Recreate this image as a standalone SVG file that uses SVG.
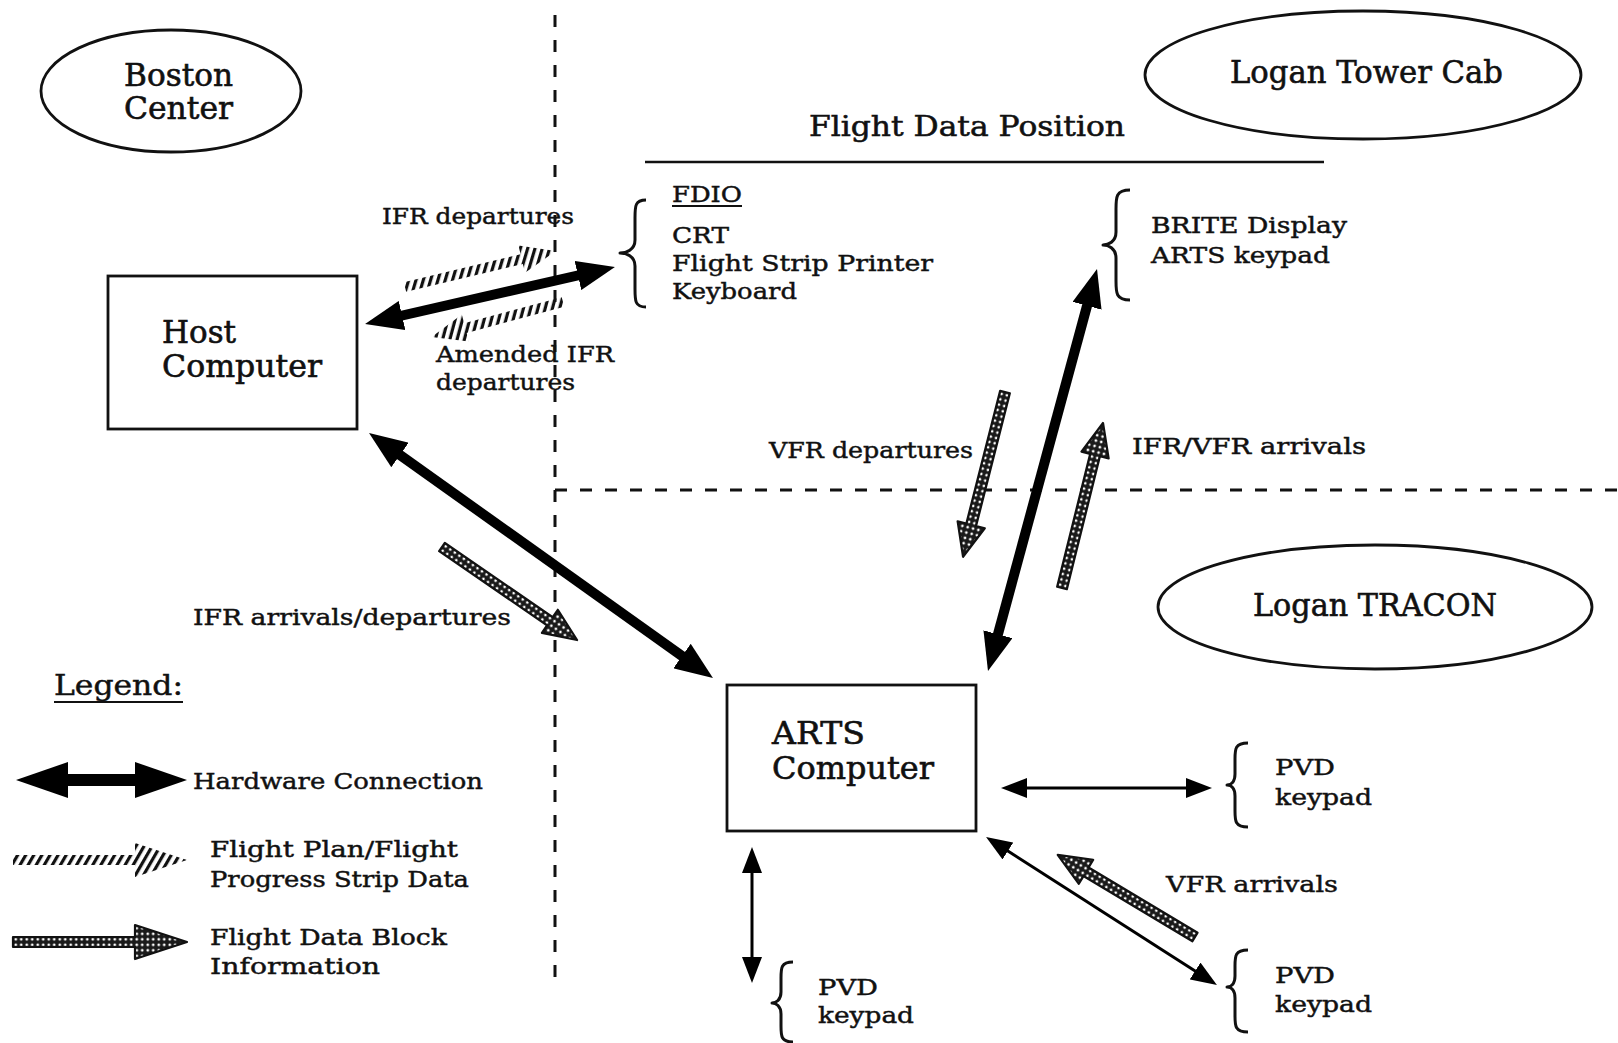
<svg xmlns="http://www.w3.org/2000/svg" width="1618" height="1043" viewBox="0 0 1618 1043">
<style>
text{font-family:"DejaVu Serif","Liberation Serif",serif;fill:#111;stroke:#111;stroke-width:0.45;}
.lg{font-size:31px;stroke-width:0.6;}
.md{font-size:28px;stroke-width:0.55;}
.sm{font-size:23px;}
.shape{fill:none;stroke:#111;stroke-width:2.8;}
.brace{fill:none;stroke:#111;stroke-width:3;stroke-linejoin:round;}
.dash{stroke:#111;stroke-width:3;stroke-dasharray:12 13;fill:none;}
.hw{stroke:#000;stroke-width:10;fill:none;}
.hwL{stroke:#000;stroke-width:12;fill:none;}
.thin{stroke:#000;stroke-width:3;fill:none;}
.hatch{fill:url(#hatchP);}
.stip{fill:url(#stipP);stroke:#111;stroke-width:2.2;stroke-linejoin:round;}
</style>
<defs>
<pattern id="hatchP" patternUnits="userSpaceOnUse" width="7" height="7" patternTransform="rotate(30)"><rect x="0" y="0" width="3.2" height="7" fill="#111"/></pattern>
<pattern id="stipP" patternUnits="userSpaceOnUse" width="5.5" height="5.5"><rect width="5.5" height="5.5" fill="#1a1a1a"/><circle cx="2.75" cy="2.75" r="1.4" fill="#fff"/></pattern>
<marker id="mHw" viewBox="0 0 38 30" refX="20" refY="15" markerWidth="38" markerHeight="30" markerUnits="userSpaceOnUse" orient="auto-start-reverse"><path d="M0,0 L38,15 L0,30 Z" fill="#000"/></marker>
<marker id="mHwL" viewBox="0 0 52 36" refX="26" refY="18" markerWidth="52" markerHeight="36" markerUnits="userSpaceOnUse" orient="auto-start-reverse"><path d="M0,0 L52,18 L0,36 Z" fill="#000"/></marker>
<marker id="mTh" viewBox="0 0 26 20" refX="20" refY="10" markerWidth="26" markerHeight="20" markerUnits="userSpaceOnUse" orient="auto-start-reverse"><path d="M0,0 L26,10 L0,20 Z" fill="#000"/></marker>
</defs>
<rect width="1618" height="1043" fill="#fff"/>

<g id="boundaries">
<line class="dash" x1="555" y1="15" x2="555" y2="986"/>
<line class="dash" x1="555" y1="490" x2="1618" y2="490"/>
</g>

<g id="boston-center">
<ellipse class="shape" cx="171" cy="91" rx="130" ry="61"/>
<text class="lg" x="124" y="86" textLength="109" lengthAdjust="spacingAndGlyphs">Boston</text>
<text class="lg" x="124" y="119" textLength="109" lengthAdjust="spacingAndGlyphs">Center</text>
</g>

<g id="logan-tower-cab">
<ellipse class="shape" cx="1363" cy="75" rx="218" ry="64"/>
<text class="lg" x="1230" y="83" textLength="273" lengthAdjust="spacingAndGlyphs">Logan Tower Cab</text>
</g>

<g id="logan-tracon">
<ellipse class="shape" cx="1375" cy="607" rx="217" ry="62"/>
<text class="lg" x="1253" y="616" textLength="244" lengthAdjust="spacingAndGlyphs">Logan TRACON</text>
</g>

<g id="flight-data-position">
<text class="md" x="809" y="136" textLength="316" lengthAdjust="spacingAndGlyphs">Flight Data Position</text>
<line x1="645" y1="162" x2="1324" y2="162" stroke="#111" stroke-width="2.6"/>
</g>

<g id="host-computer">
<rect class="shape" x="108" y="276" width="249" height="153"/>
<text class="lg" x="162" y="343" textLength="74" lengthAdjust="spacingAndGlyphs">Host</text>
<text class="lg" x="162" y="377" textLength="160" lengthAdjust="spacingAndGlyphs">Computer</text>
</g>

<g id="arts-computer">
<rect class="shape" x="727" y="685" width="249" height="146"/>
<text class="lg" x="772" y="744" textLength="93" lengthAdjust="spacingAndGlyphs">ARTS</text>
<text class="lg" x="772" y="779" textLength="162" lengthAdjust="spacingAndGlyphs">Computer</text>
</g>

<g id="fdio">
<path class="brace" d="M646,200 C635,200 635,206 635,218 L635,240 C635,250 626,253 620,253 C626,253 635,256 635,266 L635,289 C635,301 635,307 646,307"/>
<text class="sm" x="672" y="202" textLength="70" lengthAdjust="spacingAndGlyphs">FDIO</text>
<line x1="672" y1="206" x2="742" y2="206" stroke="#111" stroke-width="1.8"/>
<text class="sm" x="672" y="243" textLength="57" lengthAdjust="spacingAndGlyphs">CRT</text>
<text class="sm" x="672" y="271" textLength="261" lengthAdjust="spacingAndGlyphs">Flight Strip Printer</text>
<text class="sm" x="672" y="299" textLength="125" lengthAdjust="spacingAndGlyphs">Keyboard</text>
</g>

<g id="brite-display">
<path class="brace" d="M1130,190 C1116,190 1116,197 1116,209 L1116,232 C1116,242 1108,245 1103,245 C1108,245 1116,248 1116,258 L1116,281 C1116,293 1116,300 1130,300"/>
<text class="sm" x="1151" y="233" textLength="196" lengthAdjust="spacingAndGlyphs">BRITE Display</text>
<text class="sm" x="1151" y="263" textLength="179" lengthAdjust="spacingAndGlyphs">ARTS keypad</text>
</g>

<g id="pvd-right">
<path class="brace" d="M1248,743 C1235,743 1235,749 1235,759 L1235,774 C1235,782 1231,785 1227,785 C1231,785 1235,788 1235,796 L1235,811 C1235,821 1235,827 1248,827"/>
<text class="sm" x="1275" y="775" textLength="60" lengthAdjust="spacingAndGlyphs">PVD</text>
<text class="sm" x="1275" y="805" textLength="97" lengthAdjust="spacingAndGlyphs">keypad</text>
</g>

<g id="pvd-lower-right">
<path class="brace" d="M1248,950 C1235,950 1235,956 1235,966 L1235,976 C1235,984 1231,987 1227,987 C1231,987 1235,990 1235,998 L1235,1016 C1235,1026 1235,1032 1248,1032"/>
<text class="sm" x="1275" y="983" textLength="60" lengthAdjust="spacingAndGlyphs">PVD</text>
<text class="sm" x="1275" y="1012" textLength="97" lengthAdjust="spacingAndGlyphs">keypad</text>
</g>

<g id="pvd-bottom">
<path class="brace" d="M793,962 C781,962 781,968 781,978 L781,992 C781,1000 776,1003 772,1003 C776,1003 781,1006 781,1014 L781,1026 C781,1036 781,1042 793,1042"/>
<text class="sm" x="818" y="995" textLength="60" lengthAdjust="spacingAndGlyphs">PVD</text>
<text class="sm" x="818" y="1023" textLength="96" lengthAdjust="spacingAndGlyphs">keypad</text>
</g>

<g id="connectors">
<line class="hw" x1="382.6" y1="320" x2="597.4" y2="271" marker-start="url(#mHw)" marker-end="url(#mHw)"/>
<line class="hw" x1="383.7" y1="443.4" x2="698.3" y2="667.6" marker-start="url(#mHw)" marker-end="url(#mHw)"/>
<line class="hw" x1="1092.3" y1="286.4" x2="992.7" y2="653.6" marker-start="url(#mHw)" marker-end="url(#mHw)"/>
<line class="thin" x1="1007" y1="788" x2="1206" y2="788" marker-start="url(#mTh)" marker-end="url(#mTh)"/>
<line class="thin" x1="991.1" y1="840.2" x2="1211.9" y2="981.8" marker-start="url(#mTh)" marker-end="url(#mTh)"/>
<line class="thin" x1="752" y1="853" x2="752" y2="977" marker-start="url(#mTh)" marker-end="url(#mTh)"/>
<path class="hatch" transform="translate(405,287) rotate(-13.41)" d="M0,-5 L120,-5 L120,-14 L155,0 L120,14 L120,5 L0,5 Z"/>
<path class="hatch" transform="translate(563,302) rotate(165.04)" d="M0,-5 L101,-5 L101,-14 L136,0 L101,14 L101,5 L0,5 Z"/>
<path class="stip" transform="translate(442,547) rotate(34.56)" d="M0,-5 L131,-5 L131,-14 L164,0 L131,14 L131,5 L0,5 Z"/>
<path class="stip" transform="translate(1005,392) rotate(104.28)" d="M0,-5 L137,-5 L137,-14 L170,0 L137,14 L137,5 L0,5 Z"/>
<path class="stip" transform="translate(1062,588) rotate(-76.04)" d="M0,-5 L137,-5 L137,-14 L170,0 L137,14 L137,5 L0,5 Z"/>
<path class="stip" transform="translate(1195,937) rotate(-149.1)" d="M0,-5 L127,-5 L127,-14 L160,0 L127,14 L127,5 L0,5 Z"/>
</g>

<g id="connector-labels">
<text class="sm" x="382" y="224" textLength="192" lengthAdjust="spacingAndGlyphs">IFR departures</text>
<text class="sm" x="436" y="362" textLength="178" lengthAdjust="spacingAndGlyphs">Amended IFR</text>
<text class="sm" x="436" y="390" textLength="139" lengthAdjust="spacingAndGlyphs">departures</text>
<text class="sm" x="769" y="458" textLength="204" lengthAdjust="spacingAndGlyphs">VFR departures</text>
<text class="sm" x="1132" y="454" textLength="234" lengthAdjust="spacingAndGlyphs">IFR/VFR arrivals</text>
<text class="sm" x="193" y="625" textLength="318" lengthAdjust="spacingAndGlyphs">IFR arrivals/departures</text>
<text class="sm" x="1166" y="892" textLength="172" lengthAdjust="spacingAndGlyphs">VFR arrivals</text>
</g>

<g id="legend">
<text x="54" y="695" font-size="27" textLength="129" lengthAdjust="spacingAndGlyphs">Legend:</text>
<line x1="54" y1="702" x2="183" y2="702" stroke="#111" stroke-width="2"/>
<line class="hwL" x1="42" y1="780" x2="161" y2="780" marker-start="url(#mHwL)" marker-end="url(#mHwL)"/>
<text class="sm" x="193" y="789" textLength="290" lengthAdjust="spacingAndGlyphs">Hardware Connection</text>
<path class="hatch" transform="translate(13,860)" d="M0,-5 L122,-5 L122,-17 L174,0 L122,17 L122,5 L0,5 Z"/>
<text class="sm" x="210" y="857" textLength="248" lengthAdjust="spacingAndGlyphs">Flight Plan/Flight</text>
<text class="sm" x="210" y="887" textLength="259" lengthAdjust="spacingAndGlyphs">Progress Strip Data</text>
<path class="stip" transform="translate(13,942)" d="M0,-5 L122,-5 L122,-17 L174,0 L122,17 L122,5 L0,5 Z"/>
<text class="sm" x="210" y="945" textLength="237" lengthAdjust="spacingAndGlyphs">Flight Data Block</text>
<text class="sm" x="210" y="974" textLength="170" lengthAdjust="spacingAndGlyphs">Information</text>
</g>
</svg>
